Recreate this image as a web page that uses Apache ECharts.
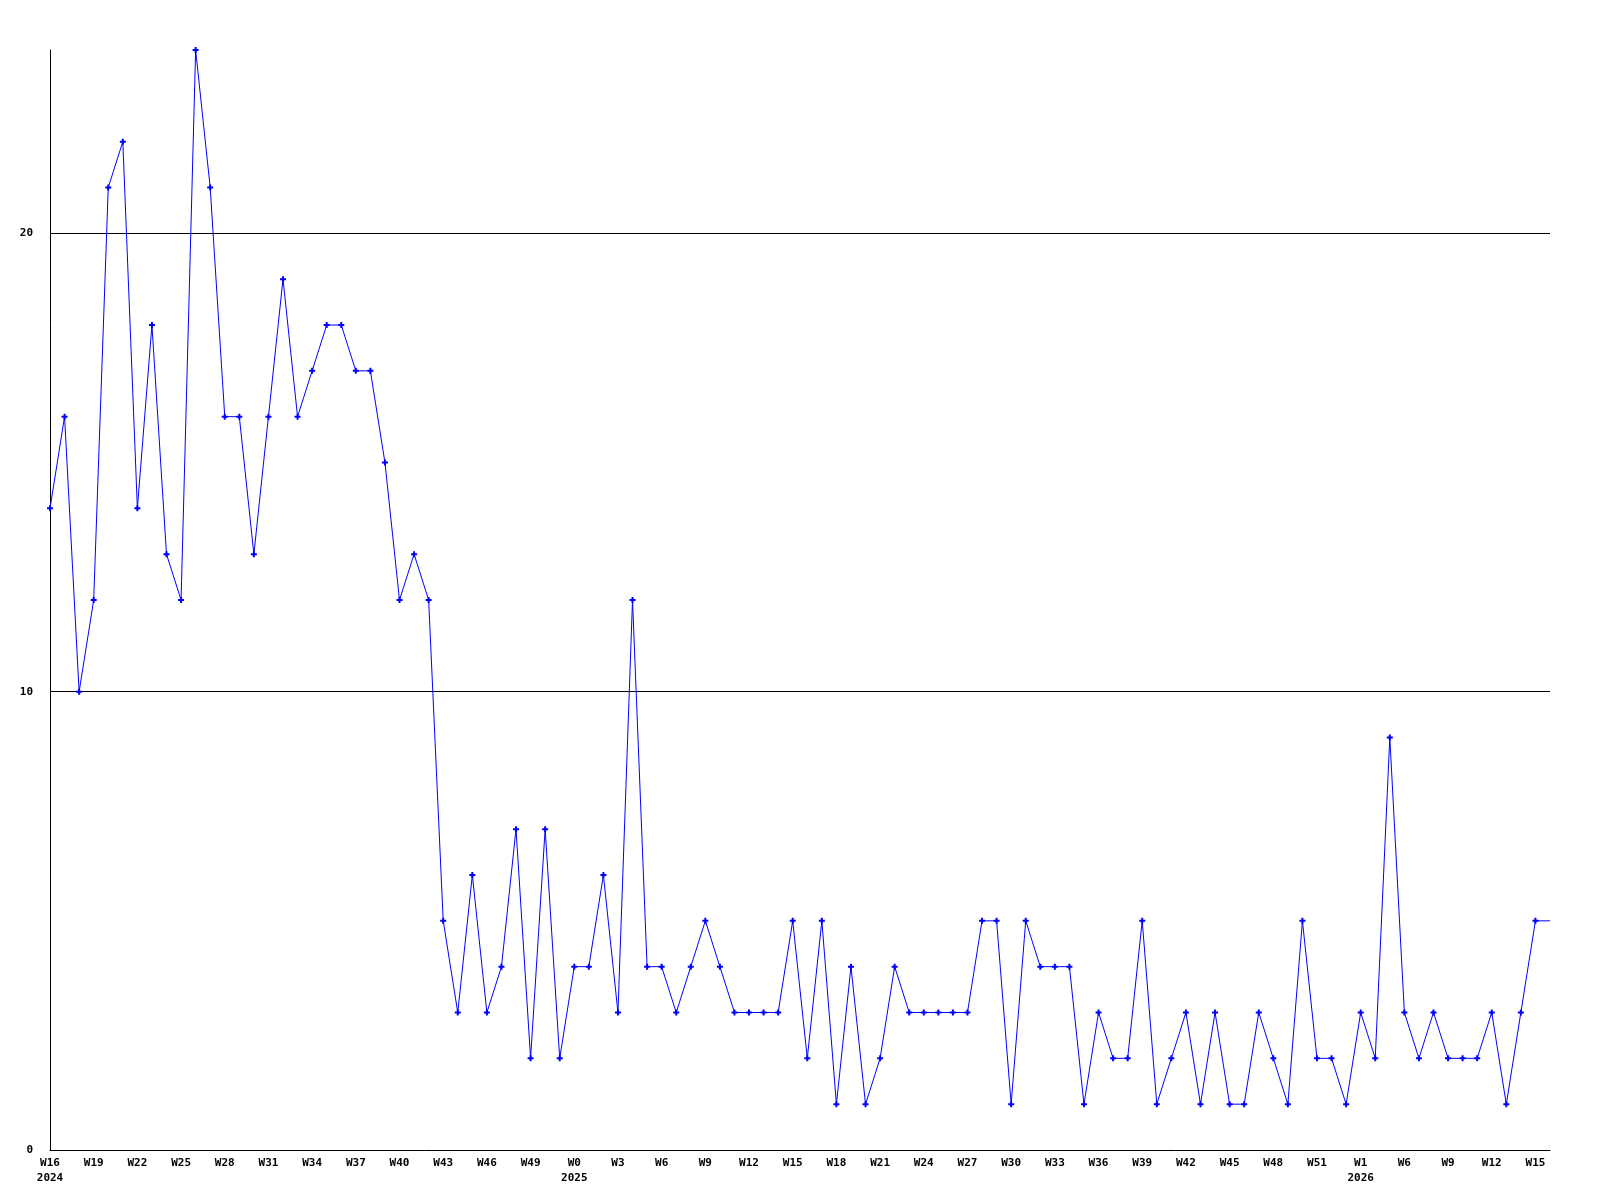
<!DOCTYPE html>
<html>
<head>
<meta charset="utf-8">
<script src="https://cdn.jsdelivr.net/npm/echarts@6/dist/echarts.min.js"></script>
<style>
html,body{margin:0;padding:0;background:#fff;}
#chart{width:1600px;height:1200px;}
</style>
</head>
<body>
<div id="chart"></div>
<script>
// Week categories (labels shown every 3rd point)
const weekLabels = [
  'W16','W17','W18','W19','W20','W21','W22','W23','W24','W25','W26','W27','W28','W29','W30','W31','W32','W33',
  'W34','W35','W36','W37','W38','W39','W40','W41','W42','W43','W44','W45','W46','W47','W48','W49','W50','W51',
  'W0','W1','W2','W3','W4','W5','W6','W7','W8','W9','W10','W11','W12','W13','W14','W15','W16','W17',
  'W18','W19','W20','W21','W22','W23','W24','W25','W26','W27','W28','W29','W30','W31','W32','W33','W34','W35',
  'W36','W37','W38','W39','W40','W41','W42','W43','W44','W45','W46','W47','W48','W49','W50','W51','W52','W0',
  'W1','W3','W5','W6','W7','W8','W9','W10','W11','W12','W13','W14','W15','W16'
];
// Year label placed under the first tick of each year
const yearIndex = [0, 36, 90];
const yearNames = ['2024', '2025', '2026'];

// Weekly counts
const values = [
  14,16,10,12,21,22,14,18,13,12,24,21,16,16,13,16,19,16,
  17,18,18,17,17,15,12,13,12,5,3,6,3,4,7,2,7,2,
  4,4,6,3,12,4,4,3,4,5,4,3,3,3,3,5,2,5,
  1,4,1,2,4,3,3,3,3,3,5,5,1,5,4,4,4,1,
  3,2,2,5,1,2,3,1,3,1,1,3,2,1,5,2,2,1,
  3,2,9,3,2,3,2,2,2,3,1,3,5,5
];

// Y axis tick settings
const yMin = 0, yMax = 24, yStep = 10;

const seriesData = values.map((v, i) =>
  i === values.length - 1 ? { value: v, symbol: 'none' } : v
);

const font = '"DejaVu Sans Mono", "Liberation Mono", monospace';
const chart = echarts.init(document.getElementById('chart'), null, { renderer: 'canvas' });
chart.setOption({
  animation: false,
  backgroundColor: '#ffffff',
  grid: { left: 50, right: 50, top: 50, bottom: 50, containLabel: false },
  xAxis: {
    type: 'category',
    data: weekLabels,
    boundaryGap: false,
    axisLine: { show: true, lineStyle: { color: '#000', width: 1 } },
    axisTick: { show: false },
    splitLine: { show: false },
    axisLabel: {
      interval: 2,
      margin: 6,
      color: '#000',
      fontFamily: font,
      fontWeight: 'bold',
      fontSize: 11,
      lineHeight: 15,
      formatter: function (val, idx) {
        const k = yearIndex.indexOf(idx);
        return k >= 0 ? val + '\n' + yearNames[k] : val;
      }
    }
  },
  yAxis: {
    type: 'value',
    min: yMin,
    max: yMax,
    interval: yStep,
    axisLine: { show: true, lineStyle: { color: '#000', width: 1 } },
    axisTick: { show: false },
    splitLine: { show: true, showMinLine: false, showMaxLine: false, lineStyle: { color: '#000', width: 1 } },
    axisLabel: {
      showMaxLabel: false,
      margin: 17,
      color: '#000',
      fontFamily: font,
      fontWeight: 'bold',
      fontSize: 11
    }
  },
  series: [{
    type: 'line',
    data: seriesData,
    smooth: false,
    symbol: 'path://M2,0H4V2H6V4H4V6H2V4H0V2H2Z',
    symbolSize: 6,
    showAllSymbol: true,
    itemStyle: { color: '#0000ff' },
    lineStyle: { color: '#0000ff', width: 1 },
    emphasis: { disabled: true }
  }]
});
</script>
</body>
</html>
